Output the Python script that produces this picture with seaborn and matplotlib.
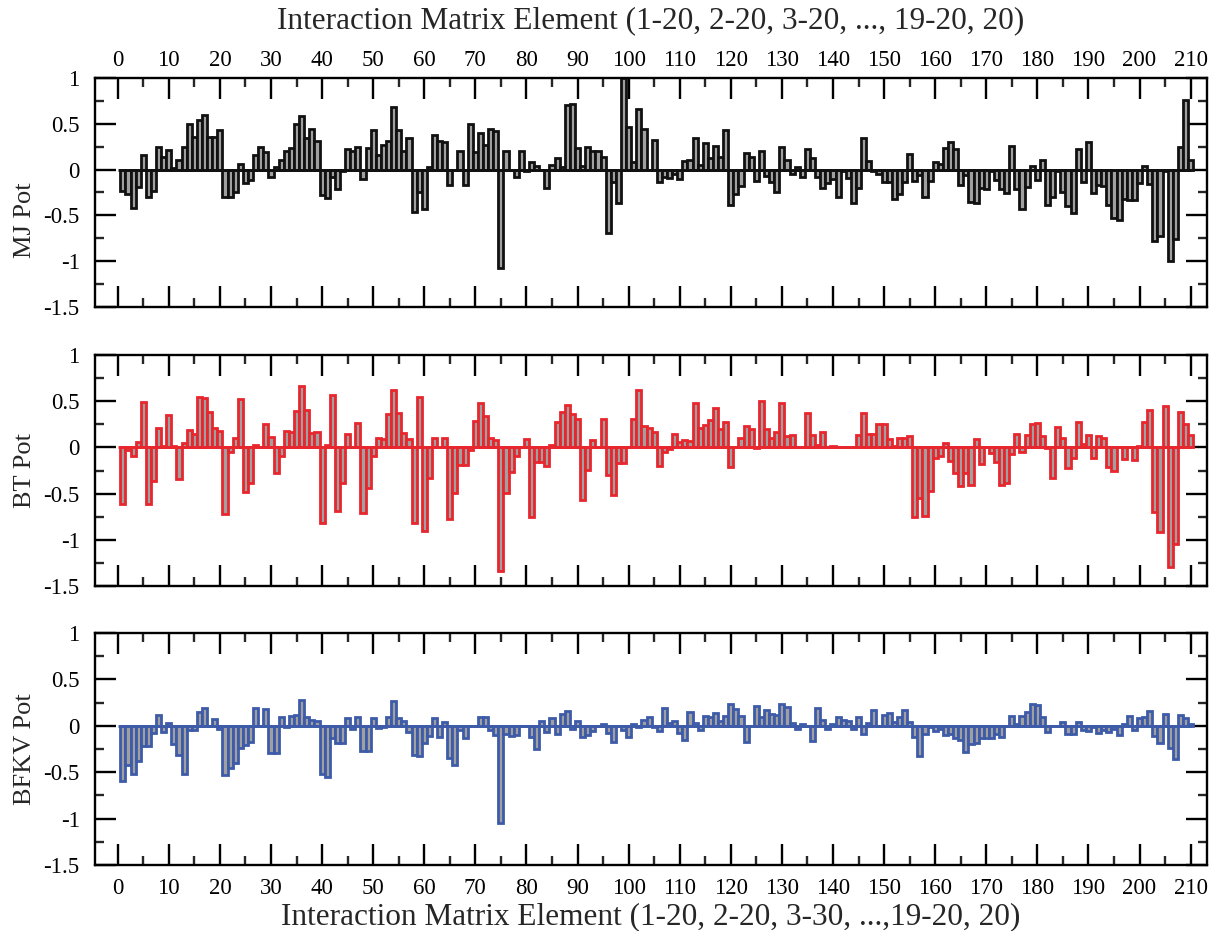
import numpy as np
import pandas as pd
import matplotlib
matplotlib.use("Agg")
import matplotlib.pyplot as plt
from matplotlib.ticker import MultipleLocator, FixedLocator, FixedFormatter
import seaborn as sns

# ---------------- data ----------------
element = list(range(1, 211))

mj_pot = [-0.23,-0.27,-0.42,-0.19,0.16,-0.30,-0.23,0.25,0.14,0.21,0.02,0.10,0.25,0.50,0.36,0.54,0.60,0.36,0.36,0.43,
          -0.30,-0.30,-0.24,0.06,-0.15,-0.11,0.16,0.25,0.19,-0.08,0.03,0.10,0.20,0.24,0.50,0.59,0.34,0.44,0.31,-0.28,
          -0.31,-0.08,-0.21,-0.01,0.23,0.20,0.25,-0.10,0.24,0.43,0.16,0.27,
          0.31,0.68,0.43,0.20,0.35,-0.46,-0.24,-0.43,0.03,0.38,0.31,0.30,-0.17,0.0,0.20,-0.17,0.50,0.19,0.40,0.27,0.44,0.42,
          -1.07,0.20,0.0,-0.08,0.20,-0.02,0.08,0.04,0.0,-0.20,0.05,0.13,0.03,0.70,0.72,0.24,0.04,0.25,0.20,0.20,0.14,-0.69,
          -0.14,-0.36,1.0,0.46,0.08,0.66,0.44,0.0,0.32,-0.14,-0.08,
          -0.09,-0.05,-0.10,0.09,0.10,0.34,0.05,0.29,0.13,0.26,0.14,0.43,-0.39,-0.27,-0.18,0.18,0.14,-0.12,0.20,-0.07,
          -0.14,-0.24,0.25,0.10,-0.05,0.03,-0.08,0.22,0.13,-0.08,-0.20,-0.15,-0.10,-0.30,-0.01,-0.09,-0.36,-0.20,0.34,0.09,
          -0.01,-0.05,-0.14,-0.14,-0.32,-0.27,-0.14,0.17,-0.12,-0.06,-0.30,-0.12,0.08,0.06,0.24,
          0.30,0.22,-0.17,-0.06,-0.35,-0.36,-0.20,-0.21,-0.01,-0.11,-0.21,-0.26,0.26,-0.21,-0.43,-0.19,0.04,-0.11,0.11,-0.39,
          -0.30,-0.01,-0.25,-0.40,-0.47,0.22,-0.13,0.30,-0.26,-0.17,-0.18,-0.39,-0.53,-0.55,-0.32,-0.33,-0.33,-0.15,0.04,-0.16,
          -0.78,-0.73,-0.02,-1.0,-0.76,0.25,0.76,0.11]

bt_pot = [-0.61,-0.03,-0.09,0.06,0.49,-0.61,-0.36,0.21,0.02,0.35,0.02,-0.34,0.05,0.19,0.14,0.55,0.54,0.38,0.21,0.18,
          -0.72,-0.05,0.10,0.52,-0.48,-0.39,0.03,0.0,0.25,0.11,-0.28,-0.09,0.18,0.17,0.39,0.66,0.41,0.16,0.17,-0.82,
          0.03,0.57,-0.69,-0.38,0.14,0.0,0.26,-0.71,-0.44,-0.09,0.10,0.09,
          0.36,0.62,0.37,0.16,0.09,-0.82,0.55,-0.90,-0.33,0.10,0.0,0.10,-0.78,-0.49,-0.19,-0.19,-0.03,0.29,0.48,0.34,
          0.10,0.08,-1.34,-0.49,-0.27,-0.09,0.0,0.09,-0.75,-0.16,-0.16,-0.20,0.03,0.28,0.38,0.46,0.36,0.31,-0.57,-0.24,
          0.08,0.0,0.31,-0.30,-0.51,-0.17,-0.17,0.0,0.31,0.62,0.23,0.21,0.17,-0.20,-0.05,
          -0.02,0.15,0.06,0.08,0.07,0.48,0.21,0.24,0.30,0.43,0.20,0.27,-0.21,0.0,0.10,0.23,0.20,-0.01,0.50,0.20,
          0.10,0.17,0.48,0.12,0.13,0.0,0.0,0.37,0.13,0.03,0.17,0.0,0.01,0.0,0.0,0.0,0.0,0.13,0.37,0.14,
          0.14,0.25,0.25,0.09,0.02,0.10,0.10,0.12,-0.75,-0.55,-0.74,-0.47,-0.12,-0.09,0.05,
          -0.15,-0.28,-0.42,-0.28,-0.41,0.09,-0.18,0.0,-0.06,-0.16,-0.41,-0.38,-0.07,0.15,-0.05,0.13,0.25,0.26,0.12,-0.01,
          -0.33,0.22,0.10,-0.22,-0.12,0.27,0.04,0.13,-0.11,0.12,0.10,-0.21,-0.26,0.0,-0.13,0.0,-0.14,0.02,0.28,0.40,
          -0.70,-0.92,0.45,-1.29,-1.05,0.38,0.25,0.13]

bfkv_pot = [-0.59,-0.42,-0.52,-0.38,-0.22,-0.22,-0.08,0.12,-0.07,0.03,-0.20,-0.32,-0.52,-0.04,-0.04,0.15,0.19,0.0,0.07,-0.03,
            -0.53,-0.46,-0.40,-0.24,-0.21,-0.17,0.19,0.0,0.18,-0.29,-0.29,0.09,-0.01,0.11,0.12,0.28,0.10,0.06,0.05,-0.52,
            -0.55,-0.13,-0.19,-0.18,0.08,-0.03,0.09,-0.27,-0.27,0.08,-0.02,-0.01,
            0.09,0.27,0.08,0.05,-0.07,-0.31,-0.33,-0.18,-0.11,0.08,-0.12,0.04,-0.35,-0.42,-0.04,-0.13,0.0,0.0,0.09,0.09,
            -0.04,-0.10,-1.05,-0.09,-0.11,-0.10,0.0,0.0,-0.12,-0.25,0.05,-0.07,0.08,-0.09,0.13,0.16,-0.03,0.05,-0.12,-0.10,
            -0.06,0.0,0.02,-0.08,-0.17,0.0,-0.04,-0.12,0.02,-0.01,0.06,0.09,-0.01,-0.06,0.19,
            0.03,0.05,-0.08,-0.15,
            0.15,0.03,-0.05,0.11,0.10,0.14,0.05,0.11,0.23,0.18,0.11,-0.17,0.0,0.21,0.10,0.17,0.13,0.12,0.23,0.20,
            0.03,-0.03,0.02,0.0,-0.16,0.19,0.06,-0.03,0.02,0.10,0.06,0.05,-0.03,0.10,-0.09,0.03,0.17,0.0,0.12,0.14,
            0.04,0.09,0.17,0.04,-0.12,-0.33,-0.09,-0.01,-0.06,-0.03,-0.10,
            -0.09,-0.13,-0.15,-0.28,-0.20,-0.19,-0.13,-0.13,-0.13,-0.09,-0.12,0.0,0.11,0.02,0.11,0.15,0.23,0.22,0.10,-0.07,
            0.0,0.0,0.04,-0.09,-0.09,0.04,-0.04,-0.06,-0.01,-0.08,-0.05,-0.07,-0.03,-0.10,0.02,0.11,-0.04,0.08,0.10,0.16,
            -0.11,-0.19,0.13,-0.24,-0.36,0.12,0.08,0.02]

panel_labels = ["MJ Pot", "BT Pot", "BFKV Pot"]
ytick_values = [-1.5, -1, -0.5, 0, 0.5, 1]
ytick_labels = ["-1.5", "-1", "-0.5", "0", "0.5", "1"]
top_title = "Interaction Matrix Element (1-20, 2-20, 3-20, ..., 19-20, 20)"
bottom_title = "Interaction Matrix Element (1-20, 2-20, 3-30, ...,19-20, 20)"

# ---------------- style ----------------
sns.set_theme(style="white")
plt.rcParams['font.family'] = ['Liberation Serif', 'DejaVu Serif']
plt.rcParams['axes.unicode_minus'] = False

W, H = 1212, 931
fig = plt.figure(figsize=(W / 100, H / 100), dpi=100)

def frac_rect(top_px, bot_px, left_px=95, right_px=1207):
    return [left_px / W, 1 - bot_px / H, (right_px - left_px) / W, (bot_px - top_px) / H]

rects = [frac_rect(78, 307), frac_rect(355, 586), frac_rect(633, 865)]
series = [mj_pot, bt_pot, bfkv_pot]
edge_colors = ["#111111", "#e8262d", "#3d5ba9"]
fill_color = "#a0a0a0"
label_y = [0.38, 0.5, 0.5]

for i, (rect, vals, ec, lab) in enumerate(zip(rects, series, edge_colors, panel_labels)):
    ax = fig.add_axes(rect)
    df = pd.DataFrame({"element": element, "value": vals})
    sns.barplot(data=df, x="element", y="value", native_scale=True, width=1.0,
                color=fill_color, saturation=1, edgecolor=ec, linewidth=2.0,
                errorbar=None, ax=ax, zorder=2)
    ax.hlines(0, 0, 210, color=ec, linewidth=2.0, zorder=3)

    ax.set_xlim(-4.45, 213.2)
    ax.set_ylim(-1.5, 1.0)

    ax.xaxis.set_major_locator(MultipleLocator(10))
    ax.xaxis.set_minor_locator(MultipleLocator(5))
    ax.yaxis.set_major_locator(FixedLocator(ytick_values))
    ax.yaxis.set_major_formatter(FixedFormatter(ytick_labels))
    ax.yaxis.set_minor_locator(MultipleLocator(0.25))

    ax.tick_params(axis='both', which='major', direction='in', length=15, width=1.7,
                   labelsize=16.5, colors='black')
    ax.tick_params(axis='y', which='major', pad=11)
    ax.tick_params(axis='both', which='minor', direction='in', length=6.5, width=1.7)
    ax.tick_params(axis='x', which='both', top=True, bottom=True)
    ax.tick_params(axis='y', which='both', left=True, right=True, labelleft=True, labelright=False)

    if i == 0:
        ax.tick_params(axis='x', which='major', pad=5)
        ax.tick_params(axis='x', labeltop=True, labelbottom=False)
        ax.xaxis.set_label_position('top')
        ax.set_xlabel(top_title, fontsize=22.5, labelpad=16)
    elif i == 1:
        ax.tick_params(axis='x', labeltop=False, labelbottom=False)
        ax.set_xlabel("")
    else:
        ax.tick_params(axis='x', which='major', pad=9)
        ax.tick_params(axis='x', labeltop=False, labelbottom=True)
        ax.set_xlabel(bottom_title, fontsize=22.5, labelpad=3)

    ax.set_ylabel(lab, fontsize=19)
    ax.yaxis.set_label_coords(-(95 - 36) / (1207 - 95), label_y[i])
    for s in ax.spines.values():
        s.set_linewidth(1.7)
        s.set_color('black')
        s.set_visible(True)

fig.savefig("out.png", dpi=100)
